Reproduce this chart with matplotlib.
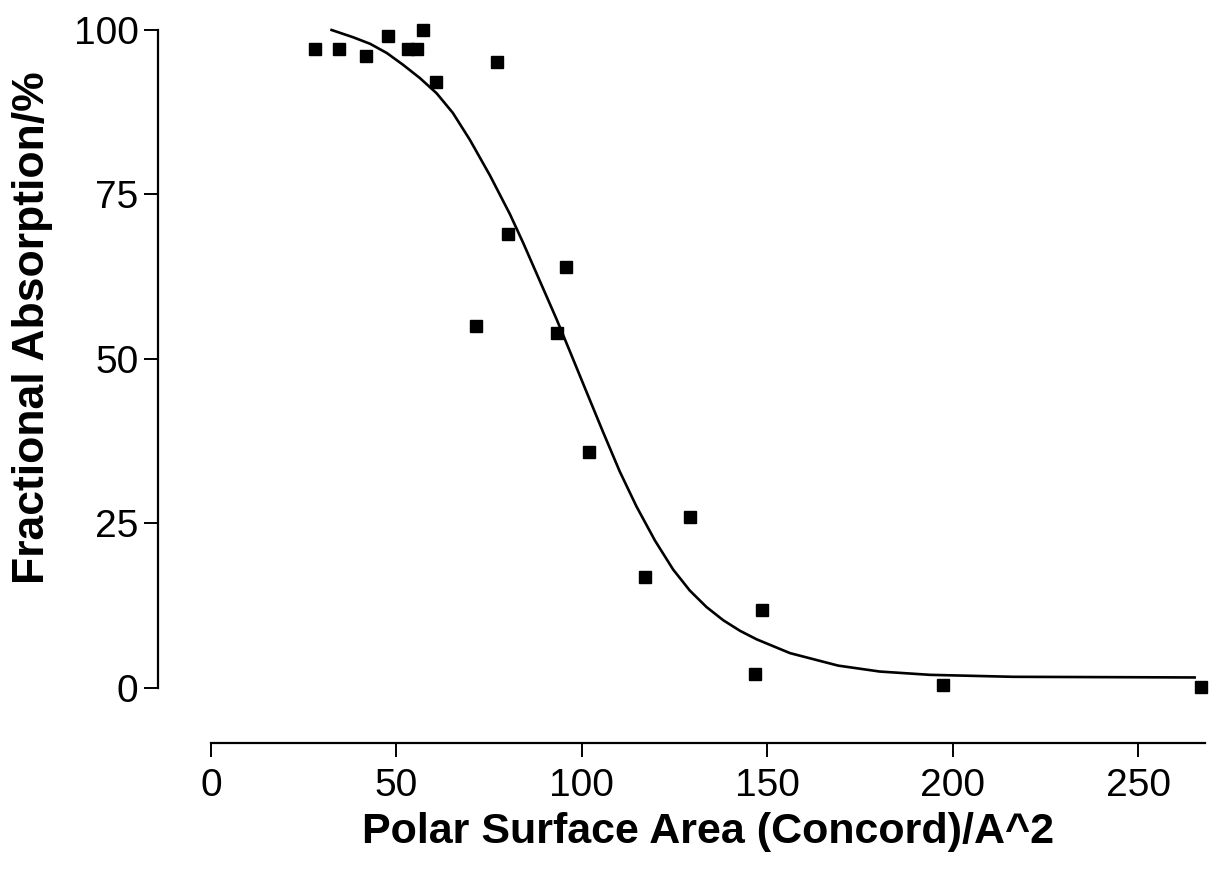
import numpy as np
import matplotlib
matplotlib.use("Agg")
from matplotlib import pyplot as plt

psa = [28.0, 34.5, 41.8, 47.7, 53.1, 55.5, 57.1, 60.6, 77.1, 71.4,
       80.1, 95.7, 93.3, 101.9, 129.1, 117.0, 148.5, 146.6, 197.3, 266.9]
absorption = [97.1, 97.1, 96.0, 99.1, 97.1, 97.1, 100.0, 92.1, 95.1, 55.0,
              69.0, 64.0, 54.0, 35.9, 26.0, 16.9, 11.9, 2.1, 0.5, 0.2]

# curva di fit
fit_x = [32.5, 38.3, 42.9, 47.4, 51.8, 56.3, 60.8, 65.2, 69.8, 75.2,
         80.6, 84.2, 88.7, 93.2, 96.8, 100.8, 105.7, 110.2, 114.7, 119.7,
         124.6, 129.1, 133.6, 138.1, 142.6, 147.1, 156.1, 169.1, 180.3,
         193.8, 216.2, 265.2]
fit_y = [100.0, 98.9, 97.9, 96.5, 94.7, 92.7, 90.4, 87.4, 83.3, 77.9,
         72.0, 67.6, 61.8, 56.0, 51.1, 45.6, 38.9, 32.9, 27.6, 22.4,
         18.0, 14.8, 12.3, 10.3, 8.7, 7.4, 5.3, 3.4, 2.5,
         2.0, 1.7, 1.6]

x_ticks = [0, 50, 100, 150, 200, 250]
y_ticks = [0, 25, 50, 75, 100]

plt.rcParams['font.family'] = ['Liberation Sans', 'DejaVu Sans']

fig = plt.figure(figsize=(12.18, 8.75), dpi=100)
ax = fig.add_axes([158/1218, 1 - 743/875, (1205-158)/1218, (743-30)/875])

ax.plot(fit_x, fit_y, color='black', lw=1.9, clip_on=False, zorder=2,
        solid_joinstyle='round')
ax.plot(psa, absorption, ls='none', marker='s', ms=8.6, color='black',
        clip_on=False, zorder=3)

ax.set_xlim(-14.3, 268)
ax.set_ylim(-8.36, 100)

for s in ['top', 'right']:
    ax.spines[s].set_visible(False)
ax.spines['left'].set_bounds(0, 100)
ax.spines['bottom'].set_bounds(0, 268)
ax.spines['left'].set_linewidth(1.6)
ax.spines['bottom'].set_linewidth(1.6)

ax.set_xticks(x_ticks)
ax.set_yticks(y_ticks)
ax.tick_params(axis='both', direction='out', length=10, width=1.4,
               labelsize=28)
ax.tick_params(axis='x', pad=8)
ax.tick_params(axis='y', pad=4)

fig.text(708/1218, 1 - 832/875, 'Polar Surface Area (Concord)/A^2',
         ha='center', va='center', fontsize=31, fontweight='bold')
fig.text(33/1218, 1 - 328/875, 'Fractional Absorption/%', rotation=90,
         ha='center', va='center', fontsize=32, fontweight='bold')

fig.savefig('out.png', dpi=100)
